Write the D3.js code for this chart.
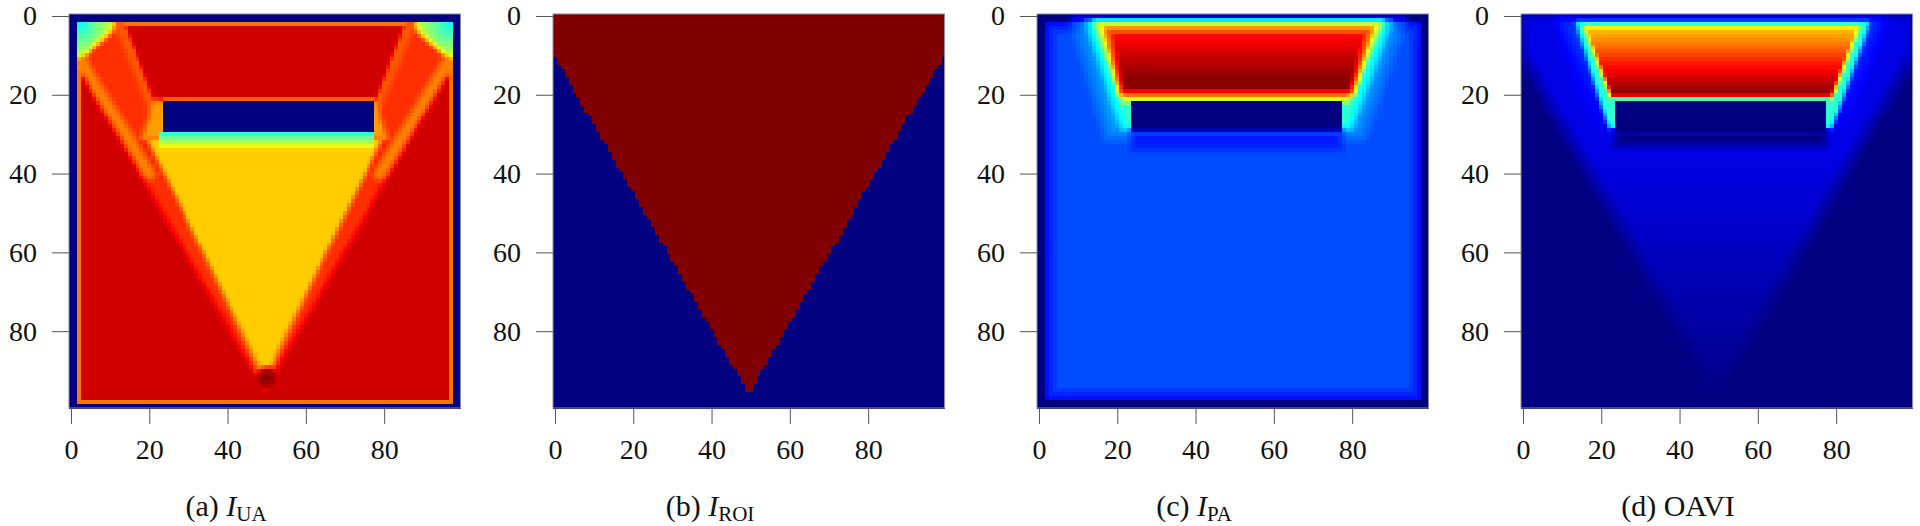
<!DOCTYPE html>
<html>
<head>
<meta charset="utf-8">
<script src="https://cdn.jsdelivr.net/npm/d3@7"></script>
<style>
  body { margin: 0; background: #fff; }
  svg { display: block; font-family: "Liberation Serif", "DejaVu Serif", serif; }
</style>
</head>
<body>
<svg id="chart" width="1920" height="526"></svg>
<script>
// 100 x 100 cell images, values on the jet colormap (0..1)
var N = 100;
var tickValues = [0, 20, 40, 60, 80];
var captions = [["(a) ", "I", "UA"], ["(b) ", "I", "ROI"], ["(c) ", "I", "PA"], ["(d) OAVI", "", ""]];

var jetStops = [0, 0.125, 0.375, 0.625, 0.875, 1];
var jetColors = ["#000080", "#0000ff", "#00ffff", "#ffff00", "#ff0000", "#800000"];

// regions, in cell units (painted in order)
var obstacle = [23.5, 21.5, 77.5, 29.5];
var roiTriangle = [[-0.5, 9.5], [49.5, 96], [99.5, 9.5], [99.5, -0.5], [-0.5, -0.5]];
var bandLeft = [[1.5, 12], [13, 1.5], [21, 21], [18.5, 31], [49.5, 91], [49.5, 95]];
var bandRight = [[97.5, 12], [86, 1.5], [78, 21], [80.5, 31], [49.5, 91], [49.5, 95]];

var layersUA = [
  {rect: [-0.5, -0.5, 99.5, 99.5], v: 0.92},
  {circle: [2, 2, 13], v: 0.38, v2: 0.68, soft: 2},
  {circle: [97, 2, 13], v: 0.38, v2: 0.68, soft: 2},
  {poly: bandLeft, v: 0.83, soft: 2},
  {poly: bandRight, v: 0.83, soft: 2},
  {seg: [3, 12, 20, 40], hw: 1.5, v: 0.75, soft: 2},
  {seg: [96, 12, 79, 40], hw: 1.5, v: 0.75, soft: 2},
  {seg: [13, 2, 49.5, 90], hw: 2, v: 0.79, soft: 2},
  {seg: [86, 2, 49.5, 90], hw: 2, v: 0.79, soft: 2},
  {poly: [[14, 2.5], [85, 2.5], [78, 21], [21, 21]], v: 0.92, soft: 1},
  {poly: [[21, 21.5], [78, 21.5], [81, 31], [18, 31]], v: 0.72, soft: 2},
  {poly: [[19, 31], [80, 31], [49.5, 92]], v: 0.675, soft: 2},
  {rect: [22.5, 29.5, 77.5, 34], v: 0.42, v2: 0.66, span: [30, 34], soft: 1},
  {rect: [23.5, 20.5, 77.5, 21.5], v: 0.78},
  {rect: obstacle, v: 0},
  {circle: [50, 92, 3], v: 1.0, v2: 0.93, soft: 1.5},
  {rect: [1.5, 13, 2.5, 98.5], v: 0.76},
  {rect: [96.5, 13, 97.5, 98.5], v: 0.76},
  {rect: [1.5, 97.5, 97.5, 98.5], v: 0.76},
  {rect: [13, 1.5, 86, 2.5], v: 0.76},
  {rect: [1.5, 1.5, 97.5, 98.5], v: 0, inv: true}
];

var layersROI = [
  {rect: [-0.5, -0.5, 99.5, 99.5], v: 0},
  {poly: roiTriangle, v: 1}
];

var layersPA = [
  {rect: [-0.5, -0.5, 99.5, 99.5], v: 0},
  {rect: [1.5, 1.5, 97.5, 97.5], v: 0.12},
  {rect: [3, 3, 96, 96], v: 0.2, soft: 4},
  {poly: [[10, 1.5], [92, 1.5], [82, 30], [18, 30]], v: 0.3, soft: 6},
  {poly: [[12.5, 1.5], [89.5, 1.5], [79.5, 28.5], [21.5, 28.5]], v: 0.42, soft: 3},
  {poly: [[14.5, 1.5], [87.5, 1.5], [79, 21.5], [21.5, 21.5]], v: 0.66, soft: 2.5},
  {poly: [[17.5, 3.5], [84.5, 3.5], [80, 19.5], [21, 19.5]], v: 0.87, v2: 0.99, span: [5, 16], soft: 3},
  {rect: obstacle, v: 0},
  {rect: [23.5, 29.5, 77.5, 34], v: 0.15, soft: 3}
];

var layersOAVI = [
  {rect: [-0.5, -0.5, 99.5, 99.5], v: 0},
  {poly: roiTriangle, v: 0.1, v2: 0.01, span: [35, 95], soft: 5},
  {poly: [[10, 1.5], [91, 1.5], [82, 30], [19, 30]], v: 0.2, v2: 0.11, span: [2, 30], soft: 6},
  {poly: [[13.5, 1.5], [88.5, 1.5], [79, 28.5], [22, 28.5]], v: 0.42, soft: 1.5},
  {poly: [[15.5, 2.5], [86, 2.5], [79, 20.5], [22.5, 20.5]], v: 0.68, v2: 1.0, span: [3, 20], soft: 1.5},
  {rect: [22.5, 20.5, 78.5, 21.5], v: 0.45},
  {rect: obstacle, v: 0},
  {rect: [23.5, 29.5, 77.5, 33], v: 0.0, soft: 3}
];

var panels = [layersUA, layersROI, layersPA, layersOAVI];

// ---- geometry helpers ----
function segDist(px, py, ax, ay, bx, by) {
  var dx = bx - ax, dy = by - ay;
  var t = ((px - ax) * dx + (py - ay) * dy) / (dx * dx + dy * dy);
  t = Math.max(0, Math.min(1, t));
  var qx = ax + t * dx - px, qy = ay + t * dy - py;
  return Math.sqrt(qx * qx + qy * qy);
}

function polySd(pts, x, y) {
  var inside = false, d = Infinity;
  for (var a = 0, b = pts.length - 1; a < pts.length; b = a++) {
    var xa = pts[a][0], ya = pts[a][1], xb = pts[b][0], yb = pts[b][1];
    if (((ya > y) != (yb > y)) && (x < (xb - xa) * (y - ya) / (yb - ya) + xa)) inside = !inside;
    d = Math.min(d, segDist(x, y, xa, ya, xb, yb));
  }
  return inside ? d : -d;
}

function signedDist(L, x, y) {
  var sd;
  if (L.rect) {
    var r = L.rect;
    sd = polySd([[r[0], r[1]], [r[2], r[1]], [r[2], r[3]], [r[0], r[3]]], x, y);
  } else if (L.poly) sd = polySd(L.poly, x, y);
  else if (L.seg) sd = L.hw - segDist(x, y, L.seg[0], L.seg[1], L.seg[2], L.seg[3]);
  else sd = L.circle[2] - Math.hypot(x - L.circle[0], y - L.circle[1]);
  return L.inv ? -sd : sd;
}

function layerValue(L, x, y) {
  if (L.v2 === undefined) return L.v;
  var t = L.circle
    ? Math.hypot(x - L.circle[0], y - L.circle[1]) / L.circle[2]
    : (y - L.span[0]) / (L.span[1] - L.span[0]);
  t = Math.max(0, Math.min(1, t));
  return L.v + (L.v2 - L.v) * t;
}

function cellValue(layers, x, y) {
  var v = 0;
  layers.forEach(function(L) {
    var sd = signedDist(L, x, y);
    var a = L.soft ? Math.max(0, Math.min(1, 0.5 + sd / L.soft)) : (sd > 0 ? 1 : 0);
    if (a > 0) v = v * (1 - a) + layerValue(L, x, y) * a;
  });
  return v;
}

// ---- drawing ----
var svg = d3.select('#chart');
var panelLeft = 69, panelStep = 484, panelTop = 14, panelW = 391.5, panelH = 394;

var colour = d3.scaleLinear().domain(jetStops).range(jetColors)
  .interpolate(d3.interpolateRgb).clamp(true);

var xScale = d3.scaleLinear().domain([-0.5, N - 0.5]).range([0, panelW]);
var yScale = d3.scaleLinear().domain([-0.5, N - 0.5]).range([0, panelH]);
var cw = xScale(1) - xScale(0), ch = yScale(1) - yScale(0);

var cells = d3.range(N * N).map(function(k) { return {i: k % N, j: Math.floor(k / N)}; });

panels.forEach(function(layers, p) {
  var g = svg.append('g')
    .attr('transform', 'translate(' + (panelLeft + p * panelStep) + ',' + panelTop + ')');

  g.append('g')
    .attr('shape-rendering', 'crispEdges')
    .selectAll('rect')
    .data(cells)
    .enter()
    .append('rect')
    .attr('x', function(d) { return xScale(d.i - 0.5); })
    .attr('y', function(d) { return yScale(d.j - 0.5); })
    .attr('width', cw + 0.6)
    .attr('height', ch + 0.6)
    .attr('fill', function(d) { return colour(cellValue(layers, d.i, d.j)); });

  g.append('rect')
    .attr('width', panelW).attr('height', panelH)
    .attr('fill', 'none').attr('stroke', '#8a8aa8').attr('stroke-width', 1);

  var xAxis = g.append('g')
    .attr('transform', 'translate(0,' + panelH + ')')
    .call(d3.axisBottom(xScale).tickValues(tickValues).tickSize(16).tickSizeOuter(0).tickPadding(15));
  var yAxis = g.append('g')
    .call(d3.axisLeft(yScale).tickValues(tickValues).tickSize(17).tickSizeOuter(0).tickPadding(15));

  [xAxis, yAxis].forEach(function(ax) {
    ax.select('.domain').remove();
    ax.selectAll('line').attr('stroke', '#555');
    ax.selectAll('text').attr('font-family', '"Liberation Serif", serif')
      .attr('font-size', 28).attr('fill', '#111');
  });

  var cap = captions[p];
  var t = g.append('text')
    .attr('x', 157).attr('y', 516 - panelTop)
    .attr('text-anchor', 'middle')
    .attr('font-size', 30).attr('fill', '#111');
  t.append('tspan').text(cap[0]);
  if (cap[1]) {
    t.append('tspan').attr('font-style', 'italic').text(cap[1]);
    t.append('tspan').attr('font-size', 21).attr('dy', 5).text(cap[2]);
  }
});
</script>
</body>
</html>
